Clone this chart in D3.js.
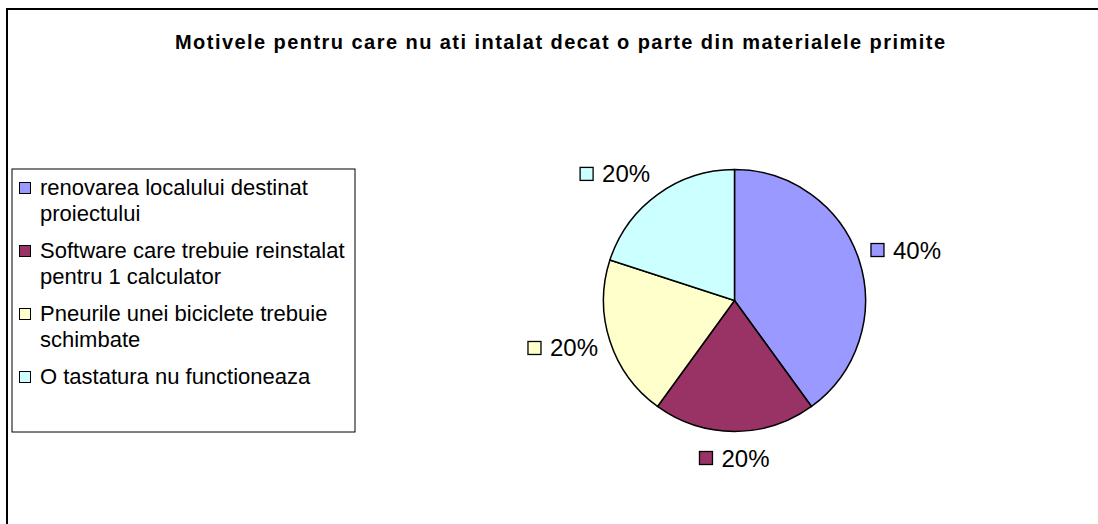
<!DOCTYPE html>
<html>
<head>
<meta charset="utf-8">
<script src="https://cdn.jsdelivr.net/npm/d3@7"></script>
<style>
    html, body { margin: 0; padding: 0; background: #fff; }
    svg text { font-family: "Liberation Sans", Arial, sans-serif; fill: #000; }
</style>
</head>
<body>
<div id="graph-container"></div>
<script>
// DATA
const title = 'Motivele pentru care nu ati intalat decat o parte din materialele primite'
const categories = [
    'renovarea localului destinat proiectului',
    'Software care trebuie reinstalat pentru 1 calculator',
    'Pneurile unei biciclete trebuie schimbate',
    'O tastatura nu functioneaza'
]
const values = [40, 20, 20, 20]
const colors = ['#9999FF', '#993366', '#FFFFCC', '#CCFFFF']

// SETTINGS
const settings = {
    width: 1098,
    height: 524,
    pie: { cx: 734.5, cy: 300.5, r: 131, labelOffset: 12.5 },
    legend: { x: 12, y: 169, width: 343, height: 263, itemStep: 63, lineStep: 25.5, firstBaseline: 26, textX: 28 },
    legendFontSize: 22,
    labelFontSize: 24
}

const svg = d3.select('#graph-container').append('svg')
    .attr('width', settings.width)
    .attr('height', settings.height)

// chart frame (only left and top edges visible)
svg.append('rect')
    .attr('x', 7).attr('y', 9)
    .attr('width', 1200).attr('height', 1000)
    .attr('fill', 'none')
    .attr('stroke', '#000')
    .attr('stroke-width', 2)

svg.append('text')
    .attr('x', 560)
    .attr('y', 49)
    .attr('text-anchor', 'middle')
    .attr('font-size', 20)
    .attr('font-weight', 'bold')
    .attr('textLength', 770)
    .attr('lengthAdjust', 'spacing')
    .text(title)

// PIE
const total = d3.sum(values)
const pie = d3.pie().sort(null).value(d => d)
const arc = d3.arc().innerRadius(0).outerRadius(settings.pie.r)
const arcs = pie(values)

const pieGroup = svg.append('g')
    .attr('transform', `translate(${settings.pie.cx}, ${settings.pie.cy})`)

pieGroup.selectAll('.slice')
    .data(arcs)
    .enter().append('path')
    .attr('class', 'slice')
    .attr('d', arc)
    .attr('fill', (d, i) => colors[i])
    .attr('stroke', '#000')
    .attr('stroke-width', 1.5)
    .attr('stroke-linejoin', 'round')

// data labels outside the pie, anchored like excel's outside end
const labelBox = { sq: 13, gap: 9, h: 16 }
pieGroup.selectAll('.pie-label')
    .data(arcs)
    .enter().append('g')
    .attr('class', 'pie-label')
    .each(function(d, i) {
        const g = d3.select(this)
        const text = g.append('text')
            .attr('font-size', settings.labelFontSize)
            .text(Math.round(d.value / total * 100) + '%')
        const tw = text.node().getComputedTextLength()
        const w = labelBox.sq + labelBox.gap + tw
        const mid = (d.startAngle + d.endAngle) / 2
        const s = Math.sin(mid), c = Math.cos(mid)
        const R = settings.pie.r + settings.pie.labelOffset
        const px = s * R, py = -c * R

        let bx
        if (s > 0.2) bx = px
        else if (s < -0.2) bx = px - w
        else bx = px - w / 2

        let cy
        if (c > 0.4) cy = py - labelBox.h / 2 - 2.5
        else if (c < -0.4) cy = py + 6 + labelBox.h / 2
        else cy = py - 1.5 - 15 * c

        g.insert('rect', 'text')
            .attr('x', bx)
            .attr('y', cy - labelBox.sq / 2)
            .attr('width', labelBox.sq)
            .attr('height', labelBox.sq)
            .attr('fill', colors[i])
            .attr('stroke', '#000')
            .attr('stroke-width', 1.3)
        text.attr('x', bx + labelBox.sq + labelBox.gap)
            .attr('y', cy + 8.5)
    })

// LEGEND
const lg = settings.legend
const legend = svg.append('g')
    .attr('transform', `translate(${lg.x}, ${lg.y})`)

legend.append('rect')
    .attr('width', lg.width)
    .attr('height', lg.height)
    .attr('fill', '#fff')
    .attr('stroke', '#000')
    .attr('stroke-width', 1)

const maxTextWidth = lg.width - lg.textX - 2
categories.forEach((name, i) => {
    const baseY = lg.firstBaseline + i * lg.itemStep
    legend.append('rect')
        .attr('x', 7.5)
        .attr('y', baseY - 12.5)
        .attr('width', 11)
        .attr('height', 11)
        .attr('fill', colors[i])
        .attr('stroke', '#000')
        .attr('stroke-width', 1)

    const text = legend.append('text')
        .attr('font-size', settings.legendFontSize)

    // simple word wrap
    const words = name.split(' ')
    let line = []
    let lineNr = 0
    let tspan = text.append('tspan').attr('x', lg.textX).attr('y', baseY)
    words.forEach(word => {
        line.push(word)
        tspan.text(line.join(' '))
        if (tspan.node().getComputedTextLength() > maxTextWidth && line.length > 1) {
            line.pop()
            tspan.text(line.join(' '))
            line = [word]
            lineNr++
            tspan = text.append('tspan')
                .attr('x', lg.textX)
                .attr('y', baseY + lineNr * lg.lineStep)
                .text(word)
        }
    })
})
</script>
</body>
</html>
